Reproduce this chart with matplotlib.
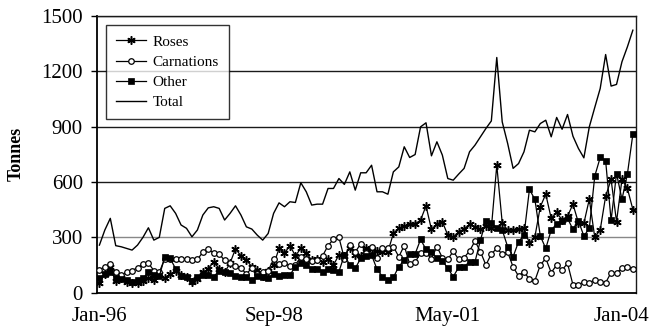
import matplotlib
matplotlib.use("Agg")
import matplotlib.pyplot as plt
import numpy as np

# Monthly data, Jan-96 onward (tonnes)
roses = [55, 100, 140, 65, 80, 60, 50, 55, 66, 80, 70, 100, 80, 100, 120, 95, 87, 60, 75, 110,
         130, 168, 130, 110, 160, 238, 200, 177, 141, 125, 90, 120, 150, 240, 215, 255, 200, 240, 215, 177,
         181, 165, 181, 150, 205, 200, 245, 205, 200, 240, 235, 228, 222, 222, 321, 349, 360, 370, 372, 394,
         470, 343, 372, 385, 312, 300, 331, 345, 370, 357, 343, 360, 349, 691, 379, 340, 340, 343, 349, 267,
         303, 466, 534, 403, 435, 394, 415, 480, 379, 376, 507, 300, 340, 523, 614, 385, 614, 565, 451]
carnations = [125, 140, 155, 110, 95, 110, 120, 135, 155, 160, 120, 110, 185, 185, 180, 185, 180, 175, 180, 220,
              235, 215, 210, 175, 162, 145, 135, 100, 135, 100, 110, 120, 180, 155, 160, 145, 150, 195, 185, 170,
              175, 200, 255, 290, 300, 185, 260, 220, 265, 215, 249, 190, 240, 245, 250, 195, 255, 155, 165, 215,
              216, 185, 250, 190, 180, 225, 180, 190, 226, 280, 222, 150, 210, 240, 210, 220, 140, 90, 114, 72,
              65, 150, 186, 109, 150, 123, 159, 42, 42, 60, 54, 69, 60, 54, 109, 109, 132, 141, 127]
other = [78, 100, 110, 80, 75, 70, 60, 68, 78, 110, 95, 90, 192, 186, 130, 90, 83, 65, 87, 95,
         96, 87, 119, 114, 105, 90, 87, 83, 69, 90, 85, 80, 100, 92, 96, 96, 141, 160, 150, 127,
         127, 114, 127, 123, 114, 204, 150, 132, 186, 199, 204, 127, 87, 69, 83, 141, 177, 210, 210, 289,
         235, 222, 186, 174, 132, 87, 137, 141, 168, 168, 285, 390, 376, 353, 340, 249, 195, 276, 312, 560,
         506, 307, 240, 340, 372, 390, 403, 343, 390, 307, 349, 632, 733, 715, 392, 646, 506, 644, 859]
total = [258, 340, 403, 255, 249, 240, 231, 258, 300, 352, 285, 300, 457, 471, 430, 367, 349, 303, 340, 421,
         460, 466, 457, 394, 430, 471, 421, 357, 345, 312, 285, 321, 430, 487, 466, 493, 489, 596, 547, 475,
         480, 480, 565, 565, 619, 587, 655, 556, 650, 650, 691, 547, 547, 534, 655, 682, 791, 733, 749, 899,
         921, 742, 818, 746, 619, 610, 643, 674, 764, 800, 845, 890, 931, 1275, 926, 809, 674, 700, 764, 881,
         872, 917, 935, 845, 950, 886, 966, 848, 782, 731, 899, 1004, 1107, 1291, 1120, 1129, 1252, 1333, 1423]
tick_labels = ["Jan-96", "Sep-98", "May-01", "Jan-04"]
tick_idx = [0, 32, 64, 96]
y_ticks = [0, 300, 600, 900, 1200, 1500]

plt.rcParams['font.family'] = ['Liberation Serif', 'DejaVu Serif']

fig = plt.figure(figsize=(6.6, 3.31), dpi=100)
ax = fig.add_axes([0.1465, 0.1157, 0.8165, 0.836])

x = np.arange(len(total))

for yv in y_ticks[1:]:
    ax.axhline(yv, color='#888888' if yv == 300 else '#1a1a1a', lw=1.0, zorder=1)

ax.plot(x, roses, color='black', lw=0.9, marker=(6, 2, 0), ms=6, mew=1.1,
        mec='black', label='Roses', zorder=3)
ax.plot(x, carnations, color='black', lw=0.9, marker='o', ms=4, mew=0.9,
        mfc='white', mec='black', label='Carnations', zorder=4)
ax.plot(x, other, color='black', lw=0.9, marker='s', ms=4.5, mew=0.5,
        mfc='black', mec='black', label='Other', zorder=5)
ax.plot(x, total, color='black', lw=1.0, label='Total', zorder=6)

ax.set_xlim(-0.5, len(total) - 0.5)
ax.set_ylim(0, 1500)
ax.set_yticks(y_ticks)
ax.set_yticklabels([str(v) for v in y_ticks], fontsize=15)
ax.set_xticks(tick_idx)
ax.set_xticklabels(tick_labels, fontsize=15)
ax.tick_params(axis='x', length=0, pad=10)
ax.tick_params(axis='y', direction='out', length=4, width=1, pad=6)
ax.set_ylabel('Tonnes', fontsize=13, fontweight='bold', labelpad=12)

for side in ['top', 'right']:
    ax.spines[side].set_color('#1a1a1a')
    ax.spines[side].set_linewidth(1.0)
for side in ['left', 'bottom']:
    ax.spines[side].set_color('black')
    ax.spines[side].set_linewidth(1.3)

leg = ax.legend(loc='upper left', bbox_to_anchor=(0.017, 0.967), borderaxespad=0,
                fontsize=11, frameon=True, fancybox=False, handlelength=2.0,
                labelspacing=0.42, borderpad=0.65, handletextpad=0.4)
leg.get_frame().set_edgecolor('black')
leg.get_frame().set_linewidth(1.0)
leg.set_zorder(10)

fig.savefig('out.png', dpi=100)
